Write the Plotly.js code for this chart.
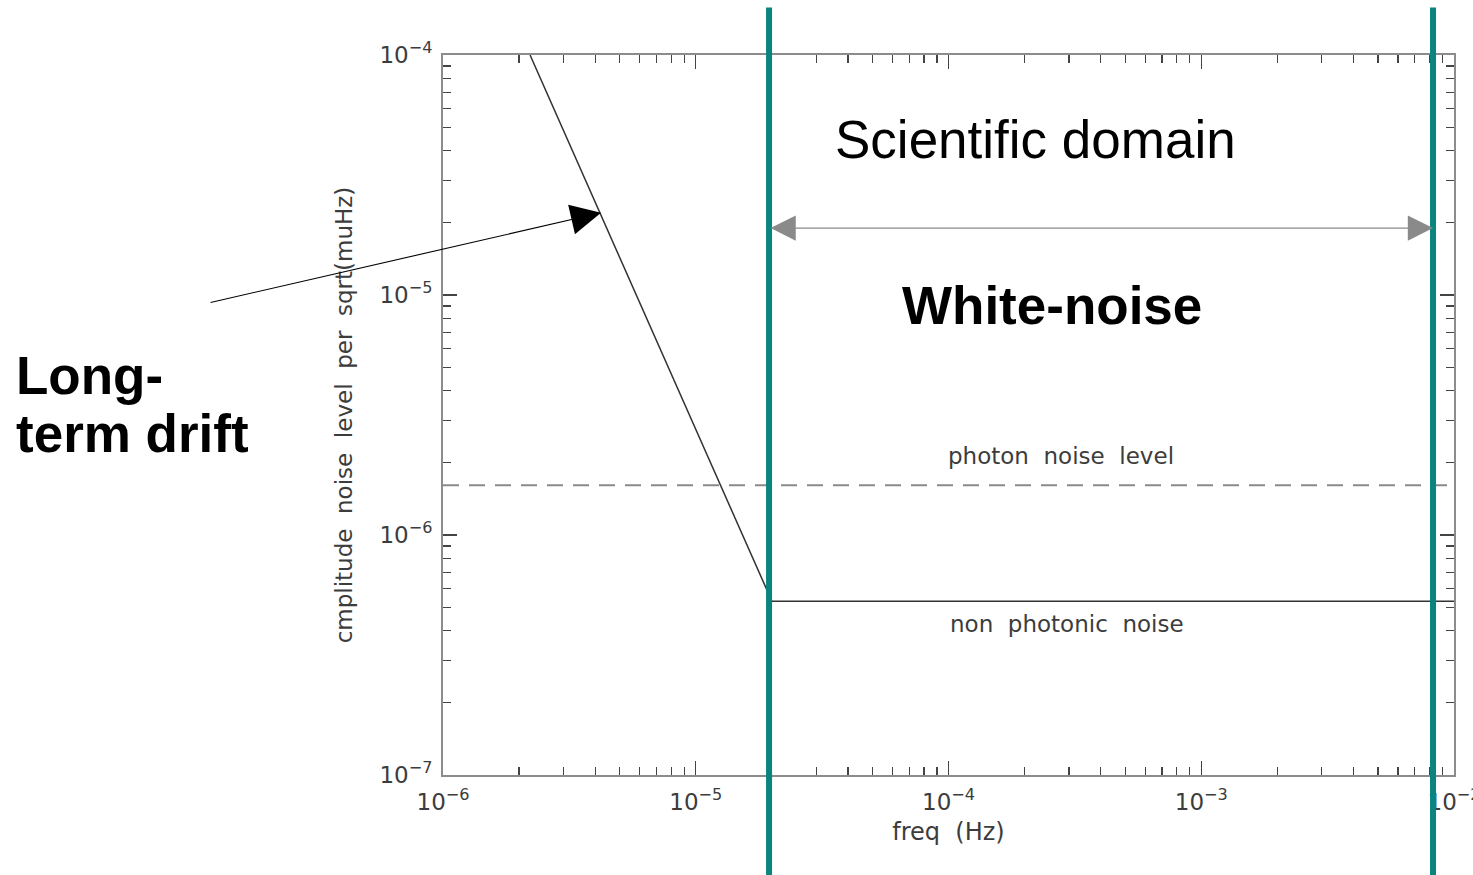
<!DOCTYPE html>
<html><head><meta charset="utf-8">
<script src="https://cdn.plot.ly/plotly-3.0.1.min.js"></script>
<style>html,body{margin:0;padding:0;background:#fff}#chart{width:1473px;height:875px}</style>
</head><body><div id="chart"></div>
<script>
// ---- data ----
const driftFreq = [2.21e-6, 2.0e-5, 1.0e-2];
const driftAmp  = [1.0e-4, 5.3e-7, 5.3e-7];
const photonFreq = [1.0e-6, 1.0e-2];
const photonAmp  = [1.61e-6, 1.61e-6];
const domainBounds = [1.95e-5, 8.26e-3];
const domainArrowLevel = 1.9e-5;
const driftArrowTip = [4.22e-6, 2.2e-5];
const xTickVals = [1e-6, 1e-5, 1e-4, 1e-3, 1e-2];
const xTickText = ['10<sup>−6</sup>', '10<sup>−5</sup>', '10<sup>−4</sup>', '10<sup>−3</sup>', '10<sup>−2</sup>'];
const yTickVals = [1e-7, 1e-6, 1e-5, 1e-4];
const yTickText = ['10<sup>−7</sup>', '10<sup>−6</sup>', '10<sup>−5</sup>', '10<sup>−4</sup>'];
const xTitle = 'freq  (Hz)';
const yTitle = 'cmplitude  noise  level  per  sqrt(muHz)';
const photonLabel = 'photon  noise  level';
const nonPhotonLabel = 'non  photonic  noise';
const domainLabel = 'Scientific domain';
const whiteLabel = 'White-noise';
const driftLabel = ['Long-', 'term drift'];

const idlFont = 'DejaVu Sans';
const txtCol = '#3c3c3c';
const teal = '#0a847f';

const traces = [
  {x: photonFreq, y: photonAmp, mode: 'lines', type: 'scatter',
   line: {color: '#8a8a8a', width: 2, dash: '16px,10px'}, hoverinfo: 'skip'},
  {x: driftFreq, y: driftAmp, mode: 'lines', type: 'scatter',
   line: {color: '#333', width: 1.5}, hoverinfo: 'skip'}
];

const axisCommon = {
  type: 'log', showline: true, linecolor: '#8c8c8c', linewidth: 2, mirror: 'allticks',
  ticks: 'inside', ticklen: 14, tickwidth: 1.3, tickcolor: '#444',
  showgrid: false, zeroline: false, tickmode: 'array', ticklabeloverflow: 'allow',
  tickfont: {family: idlFont, size: 23, color: txtCol},
  minor: {ticks: 'inside', ticklen: 8, tickwidth: 1.2, tickcolor: '#444', dtick: 'D1', showgrid: false}
};

const lg = Math.log10;
const px = v => (v - 443) / 1011;   // pixel -> paper x helper for free text
const py = v => (775 - v) / 720;    // pixel -> paper y helper for free text
const txt = (x, y, text, font, extra) => Object.assign({
  xref: 'paper', yref: 'paper', x: px(x), y: py(y), text: text, showarrow: false,
  xanchor: 'center', yanchor: 'middle', font: font}, extra || {});
const bigFont = {family: 'Liberation Sans', size: 53, color: '#000'};
const smallFont = {family: idlFont, size: 23, color: txtCol};

const layout = {
  width: 1473, height: 875,
  margin: {l: 443, r: 19, t: 55, b: 100},
  paper_bgcolor: '#fff', plot_bgcolor: '#fff',
  showlegend: false,
  xaxis: Object.assign({}, axisCommon, {
    range: [-6, -2], tickvals: xTickVals, ticktext: xTickText, ticklabelstandoff: 5,
    title: {text: xTitle, font: {family: idlFont, size: 24, color: txtCol}, standoff: 10}
  }),
  yaxis: Object.assign({}, axisCommon, {
    range: [-7, -4], tickvals: yTickVals, ticktext: yTickText, ticklabelstandoff: 4,
    title: {text: yTitle, font: {family: idlFont, size: 23, color: txtCol}, standoff: 20}
  }),
  shapes: domainBounds.map(v => ({
    type: 'line', xref: 'x', yref: 'paper', x0: v, x1: v, y0: -0.14, y1: 1.066,
    line: {color: teal, width: 6}, layer: 'above'
  })),
  annotations: [
    {xref: 'x', yref: 'y', x: lg(domainBounds[1]), y: lg(domainArrowLevel),
     axref: 'x', ayref: 'y', ax: lg(domainBounds[0]), ay: lg(domainArrowLevel),
     text: '', showarrow: true, arrowside: 'end+start', arrowhead: 2, arrowsize: 4.2,
     arrowwidth: 1.2, arrowcolor: '#8a8a8a'},
    {xref: 'x', yref: 'y', x: lg(driftArrowTip[0]), y: lg(driftArrowTip[1]),
     ax: -392, ay: 90, text: '', showarrow: true, arrowhead: 2, arrowsize: 5.5,
     arrowwidth: 1.1, arrowcolor: '#000'},
    txt(1035, 139, domainLabel, bigFont),
    txt(1051.5, 305, '<b>' + whiteLabel + '</b>', bigFont),
    txt(14, 375, '<b>' + driftLabel[0] + '</b>', bigFont, {xanchor: 'left'}),
    txt(14, 433, '<b>' + driftLabel[1] + '</b>', bigFont, {xanchor: 'left'}),
    txt(1061, 456, photonLabel, smallFont),
    txt(1067, 624, nonPhotonLabel, smallFont)
  ]
};

Plotly.newPlot('chart', traces, layout, {staticPlot: true, displayModeBar: false});
</script>
</body></html>
